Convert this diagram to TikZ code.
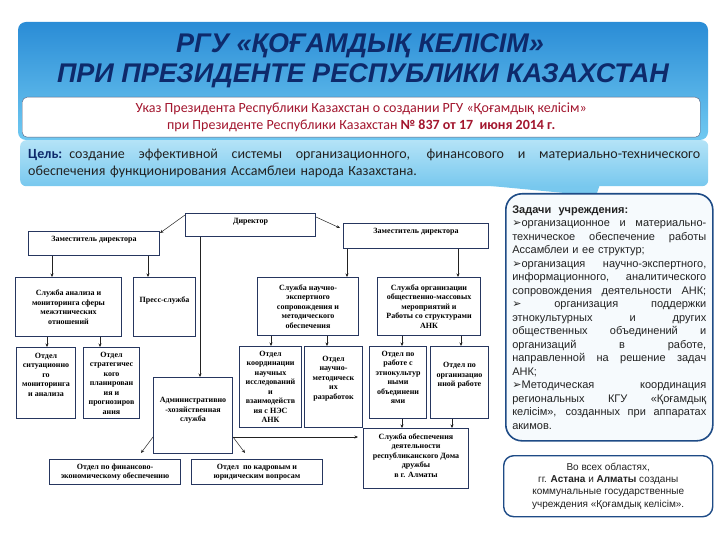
\documentclass[tikz,border=0pt]{standalone}
\usepackage{fontspec}
\setmainfont{Liberation Serif}
\setsansfont{Liberation Sans}
\newfontfamily\carlito{Carlito}
\newfontfamily\dejavu{DejaVu Sans}
\usetikzlibrary{arrows.meta,calc,positioning}
\definecolor{KzNavy}{HTML}{0E2A6B}
\definecolor{KzBlueTop}{HTML}{2A8CD6}
\definecolor{KzBlueBot}{HTML}{70C9F1}
\definecolor{KzAimTop}{HTML}{B4E3F7}
\definecolor{KzAimBot}{HTML}{78C8EE}
\definecolor{KzRed}{HTML}{A3162E}
\definecolor{KzFrame}{HTML}{1E4B86}
\definecolor{KzOrg}{HTML}{26365F}
\definecolor{KzInk}{HTML}{222222}
\definecolor{KzPale}{HTML}{F6FAFD}

\newcommand{\taskmark}{{\dejavu\char"27A2}}
\newlength{\taskw}\setlength{\taskw}{194pt}
% a line stretched to the full width
\newcommand{\jl}[2][\taskw]{\makebox[#1][s]{\spaceskip=.22em plus 1fil\relax #2}}

\begin{document}
\begin{tikzpicture}[x=1pt,y=-1pt,
  orgbox/.style={draw=KzOrg,line width=1pt,fill=white,anchor=north west,align=center,
    inner sep=1pt,font=\bfseries\fontsize{8}{9.5}\selectfont},
  arr/.style={-{Stealth[length=3.5pt,width=3pt]},line width=.5pt,KzInk},
  titletext/.style={font=\sffamily\bfseries\itshape\fontsize{27}{30}\selectfont,text=KzNavy}]

\useasboundingbox (0,0) rectangle (720,540);

% header
\shade[top color=KzBlueTop,bottom color=KzBlueBot,rounded corners=8pt] (18,22) rectangle (708,140);
\node[titletext] (title1) at (360,46) {РГУ «ҚОҒАМДЫҚ КЕЛІСІМ»};
\node[titletext] (title2) at (363,76) {ПРИ ПРЕЗИДЕНТЕ РЕСПУБЛИКИ КАЗАХСТАН};
\node[draw=KzOrg!80,fill=white,rounded corners=5pt,minimum width=678pt,minimum height=40pt,
  anchor=north west,align=center,text=KzRed,font=\carlito\fontsize{14}{17}\selectfont] (decree) at (22,97)
  {Указ Президента Республики Казахстан о создании РГУ «Қоғамдық келісім»\\
   при Президенте Республики Казахстан \textbf{№ 837 от 17 \ июня 2014 г.}};
\fill[KzAimBot] (470,184) -- (600,184) -- (596,196) -- cycle;
\node[top color=KzAimTop,bottom color=KzAimBot,rounded corners=6pt,minimum width=688pt,minimum height=46pt,
  anchor=north west,align=left,text width=672pt,text=KzInk,font=\carlito\fontsize{14}{17}\selectfont] (aim) at (20,140)
  {\jl[672pt]{\textcolor{KzNavy}{\bfseries Цель:} создание эффективной системы организационного, финансового и материально-технического}\\
   обеспечения функционирования Ассамблеи народа Казахстана.};

% tasks
\node[draw=KzFrame,line width=1.6pt,fill=KzPale,rounded corners=16pt,minimum width=207pt,minimum height=247pt,
  anchor=north west,inner xsep=6.5pt,align=left,text width=\taskw,text=KzInk,
  font=\sffamily\fontsize{11}{13.5}\selectfont] (tasks) at (505,193)
  {{\bfseries Задачи \ учреждения:}\\
   \jl{\taskmark организационное и материально-}\\
   \jl{техническое обеспечение работы}\\
   Ассамблеи и ее структур;\\
   \jl{\taskmark организация научно-экспертного,}\\
   \jl{информационного, аналитического}\\
   \jl{сопровождения деятельности АНК;}\\
   \jl{\taskmark{} организация поддержки}\\
   \jl{этнокультурных и других}\\
   \jl{общественных объединений и}\\
   \jl{организаций в работе,}\\
   \jl{направленной на решение задач}\\
   АНК;\\
   \jl{\taskmark Методическая координация}\\
   \jl{региональных КГУ «Қоғамдық}\\
   \jl{келісім», созданных при аппаратах}\\
   акимов.};
\node[draw=KzFrame,line width=1.4pt,fill=white,rounded corners=10pt,minimum width=209pt,minimum height=61pt,
  anchor=north west,align=center,text=KzInk,font=\sffamily\fontsize{10}{12.3}\selectfont] (regions) at (503,455)
  {Во всех областях,\\
   гг. \textbf{Астана} и \textbf{Алматы} созданы\\
   коммунальные государственные\\
   учреждения «Қоғамдық келісім».};

% org chart
\node[orgbox,minimum width=130pt,minimum height=23pt,text depth=9pt] (director) at (185,213) {Директор};
\node[orgbox,minimum width=131pt,minimum height=24pt,text depth=10pt] (depL) at (28,231) {Заместитель директора};
\node[orgbox,minimum width=145pt,minimum height=25pt,text depth=10pt] (depR) at (343,223) {Заместитель директора};
\node[orgbox,minimum width=106pt,minimum height=59pt] (svcAnalysis) at (15,277)
  {Служба анализа и\\мониторинга сферы\\межэтнических\\отношений};
\node[orgbox,minimum width=62pt,minimum height=59pt,text depth=15pt] (press) at (133,277) {Пресс-служба};
\node[orgbox,minimum width=101pt,minimum height=58pt] (svcScience) at (257,277)
  {Служба научно-\\экспертного\\сопровождения и\\методического\\обеспечения};
\node[orgbox,minimum width=103pt,minimum height=58pt] (svcEvents) at (377,277)
  {Служба организации\\общественно-массовых\\мероприятий и\\Работы со структурами\\АНК};
\node[orgbox,minimum width=59pt,minimum height=71pt,text depth=17pt] (dptSituation) at (16,347)
  {Отдел\\ситуационно\\го\\мониторинга\\и анализа};
\node[orgbox,minimum width=56pt,minimum height=71pt] (dptStrategy) at (83,347)
  {Отдел\\стратегичес\\кого\\планирован\\ия и\\прогнозиров\\ания};
\node[orgbox,minimum width=62pt,minimum height=81pt] (dptCoord) at (239,346)
  {Отдел\\координации\\научных\\исследований\\и\\взаимодейств\\ия с НЭС\\АНК};
\node[orgbox,minimum width=58pt,minimum height=81pt,text depth=19pt] (dptMethod) at (304,346)
  {Отдел\\научно-\\методическ\\их\\разработок};
\node[orgbox,minimum width=57pt,minimum height=72pt,text depth=10pt] (dptEthno) at (369,346)
  {Отдел по\\работе с\\этнокультур\\ными\\объединени\\ями};
\node[orgbox,minimum width=58pt,minimum height=72pt,text depth=16pt] (dptOrgWork) at (430,346)
  {Отдел по\\организацио\\нной работе};
\node[orgbox,minimum width=79pt,minimum height=76pt,text depth=12pt] (admin) at (153,377)
  {Административно\\-хозяйственная\\служба};
\node[orgbox,minimum width=131pt,minimum height=25pt] (dptFinance) at (49,459)
  {Отдел по финансово-\\экономическому обеспечению};
\node[orgbox,minimum width=131pt,minimum height=25pt] (dptLegal) at (191,459)
  {Отдел \ по кадровым и\\юридическим вопросам};
\node[orgbox,minimum width=105pt,minimum height=60pt,text depth=6pt] (svcHouse) at (363,428)
  {Служба обеспечения\\деятельности\\республиканского Дома\\дружбы\\в г. Алматы};

% connectors
\draw[arr] ([yshift=-2pt]director.north west) -- ([yshift=-2pt]depL.north east);
\draw[arr] ([yshift=-4pt]director.north east) -- ([xshift=-3pt,yshift=-5pt]depR.north west);
\foreach \src/\dst/\dx in {director/admin/15,depL/svcAnalysis/24,depL/press/120,
    depR/svcScience/4,depR/svcEvents/115,svcAnalysis/dptSituation/32,svcAnalysis/dptStrategy/85,
    svcScience/dptCoord/14,svcScience/dptMethod/70,svcEvents/dptEthno/25,svcEvents/dptOrgWork/84,
    dptEthno/svcHouse/33,dptOrgWork/svcHouse/22}
  \draw[arr] ([xshift=\dx pt]\src.south west) -- ([xshift=\dx pt]\src.south west |- \dst.north);
\draw[arr] ([yshift=-60pt]admin.north west) -- ([xshift=-40pt,yshift=6pt]dptFinance.north east);
\draw[arr] ([yshift=-60pt]admin.north east) -- ([xshift=54pt,yshift=6pt]dptLegal.north west);
\draw[arr] ([yshift=-60pt]admin.north east) -- ([xshift=-5pt,yshift=-60pt]svcHouse.west |- admin.north);
\end{tikzpicture}
\end{document}
